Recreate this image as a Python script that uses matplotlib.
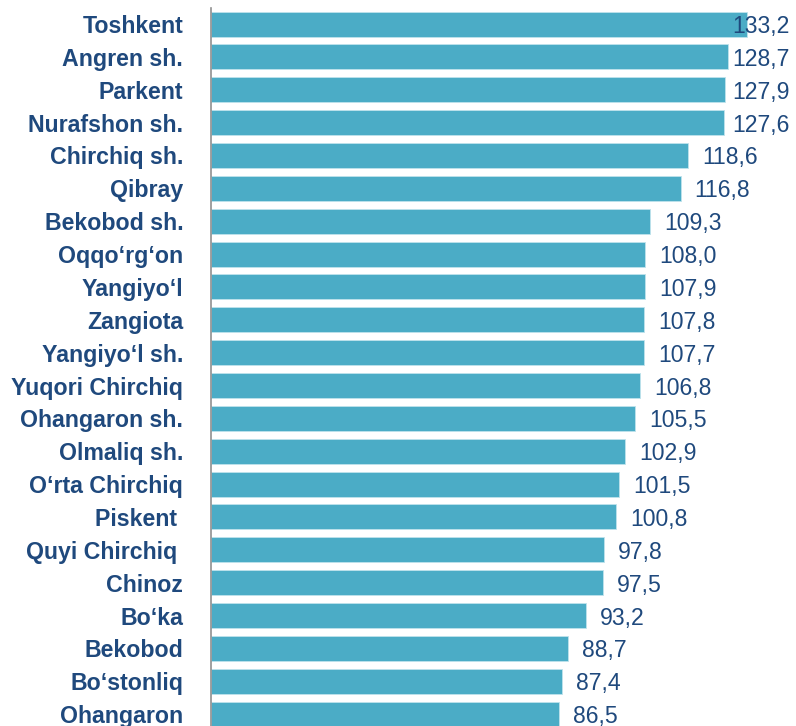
import matplotlib.pyplot as plt

districts = ["Toshkent", "Angren sh.", "Parkent", "Nurafshon sh.", "Chirchiq sh.",
             "Qibray", "Bekobod sh.", "Oqqo‘rg‘on", "Yangiyo‘l", "Zangiota",
             "Yangiyo‘l sh.", "Yuqori Chirchiq", "Ohangaron sh.", "Olmaliq sh.",
             "O‘rta Chirchiq", "Piskent ", "Quyi Chirchiq ", "Chinoz", "Bo‘ka",
             "Bekobod", "Bo‘stonliq", "Ohangaron"]
values = [133.2, 128.7, 127.9, 127.6, 118.6, 116.8, 109.3, 108.0, 107.9, 107.8,
          107.7, 106.8, 105.5, 102.9, 101.5, 100.8, 97.8, 97.5, 93.2, 88.7,
          87.4, 86.5]

bar_color = "#4BACC6"
text_color = "#1F497D"
plt.rcParams['font.family'] = ['Liberation Sans', 'DejaVu Sans']

fig = plt.figure(figsize=(7.96, 7.26), dpi=100)
ax = fig.add_axes([211 / 796, 0, 585 / 796, (726 - 7.6) / 726])

pos = list(range(len(districts)))
ax.barh(pos, values, height=0.76, color=bar_color, edgecolor="#bfe3ec", linewidth=0.6)

ax.set_xlim(0, 145.5)
ax.set_ylim(21.36, -0.5)
ax.set_yticks(pos)
ax.set_yticklabels(districts, fontsize=16.7, fontweight="bold", color=text_color)
ax.tick_params(axis="y", length=0, pad=20)
ax.set_xticks([])

for s in ["top", "right", "bottom"]:
    ax.spines[s].set_visible(False)
ax.spines["left"].set_color("#909090")
ax.spines["left"].set_linewidth(1.2)

# labels sit just past the bar end, but never beyond the plot area
for i, v in enumerate(values):
    x = min(v + 3.5, 129.6)
    ax.text(x, i, f"{v:.1f}".replace(".", ","), va="center_baseline", ha="left",
            fontsize=16.6, color=text_color)

fig.savefig("out.png", dpi=100)
